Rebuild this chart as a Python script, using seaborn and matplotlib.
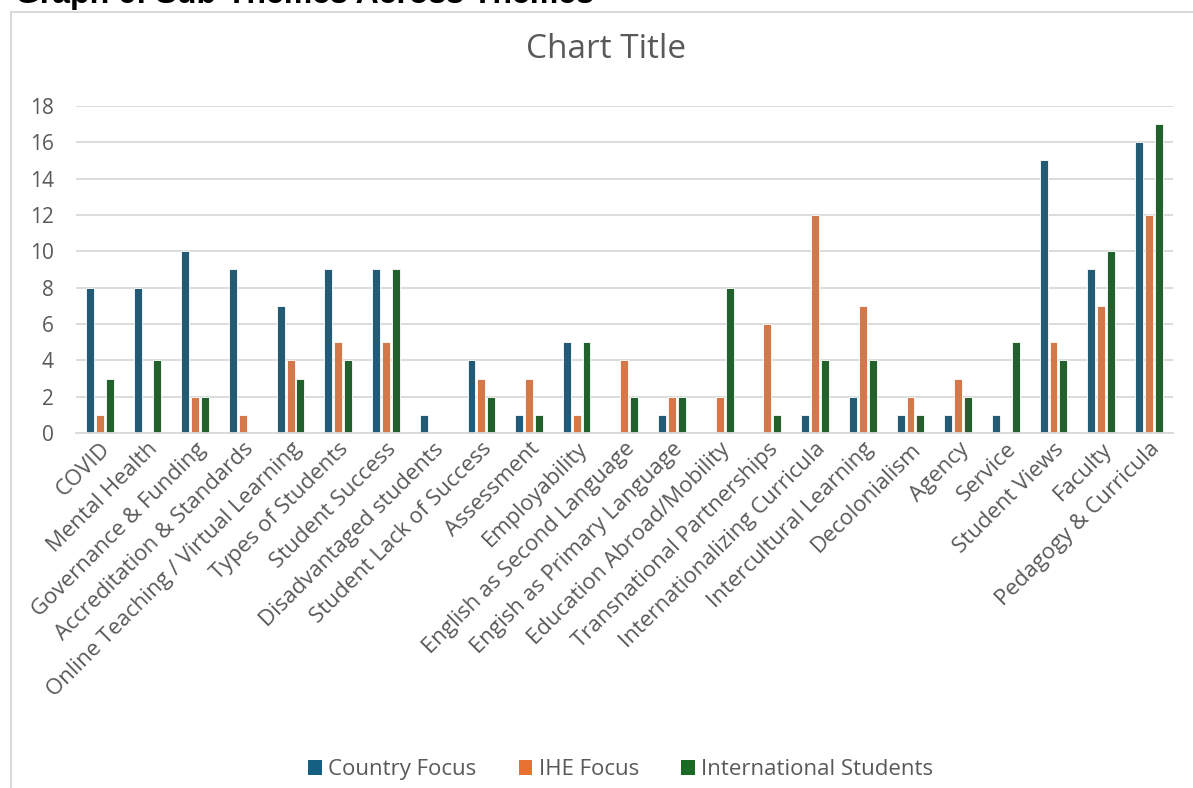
import matplotlib
matplotlib.use("Agg")
import matplotlib.pyplot as plt
from matplotlib.patches import Rectangle, Patch
import pandas as pd
import seaborn as sns

categories = [
    "COVID", "Mental Health", "Governance & Funding", "Accreditation & Standards",
    "Online Teaching / Virtual Learning", "Types of Students", "Student Success",
    "Disadvantaged students", "Student Lack of Success", "Assessment", "Employability",
    "English as Second Language", "Engish as Primary Language", "Education Abroad/Mobility",
    "Transnational Partnerships", "Internationalizing Curricula", "Intercultural Learning",
    "Decolonialism", "Agency", "Service", "Student Views", "Faculty", "Pedagogy & Curricula",
]
country_focus = [8, 8, 10, 9, 7, 9, 9, 1, 4, 1, 5, 0, 1, 0, 0, 1, 2, 1, 1, 1, 15, 9, 16]
ihe_focus = [1, 0, 2, 1, 4, 5, 5, 0, 3, 3, 1, 4, 2, 2, 6, 12, 7, 2, 3, 0, 5, 7, 12]
international_students = [3, 4, 2, 0, 3, 4, 9, 0, 2, 1, 5, 2, 2, 8, 1, 4, 4, 1, 2, 5, 4, 10, 17]
series_names = ["Country Focus", "IHE Focus", "International Students"]
series_colors = ["#156082", "#E97132", "#196B24"]
y_ticks = [0, 2, 4, 6, 8, 10, 12, 14, 16, 18]
chart_title = "Chart Title"
header = "Graph 6: Sub-Themes Across Themes"

rows = []
for name, values in zip(series_names, [country_focus, ihe_focus, international_students]):
    for cat, v in zip(categories, values):
        rows.append({"Theme": cat, "Series": name, "Count": v})
df = pd.DataFrame(rows)

sns.set_theme(style="white")
plt.rcParams["font.family"] = ["Open Sans", "DejaVu Sans"]
text_color = "#595959"

fig = plt.figure(figsize=(11.93, 7.88), dpi=100)
ax = fig.add_axes([0.0637, 0.4505, 0.9193, 0.415])

sns.barplot(
    data=df, x="Theme", y="Count", hue="Series", order=categories,
    hue_order=series_names, palette=series_colors, width=0.62, gap=0.2,
    edgecolor="white", linewidth=0.6, ax=ax, legend=False,
)

ax.set_ylim(0, 18)
ax.set_xlim(-0.5, len(categories) - 0.5)
ax.set_yticks(y_ticks)
ax.yaxis.grid(True, color="#D9D9D9", linewidth=1.3)
ax.set_axisbelow(True)
for side in ["left", "right", "top"]:
    ax.spines[side].set_visible(False)
ax.spines["bottom"].set_color("#D9D9D9")
ax.spines["bottom"].set_linewidth(1.3)
ax.set_xlabel("")
ax.set_ylabel("")
ax.tick_params(axis="y", length=0, pad=16, labelsize=15, labelcolor=text_color)
ax.tick_params(axis="x", length=0, pad=4, labelsize=16, labelcolor=text_color)
for lbl in ax.get_xticklabels():
    lbl.set_rotation(45)
    lbl.set_ha("right")
    lbl.set_rotation_mode("anchor")

fig.text(606 / 1193, 1 - 50 / 788, chart_title, ha="center", va="center",
         fontsize=24, color=text_color)

# chart frame
fig.patches.append(Rectangle((11 / 1193, -0.05), 1.2, 1 - 12 / 788 + 0.05,
                             transform=fig.transFigure, fill=False,
                             edgecolor="#D9D9D9", linewidth=1.5))

# document heading above the chart frame
fig.text(15 / 1193, 1 - 3.5 / 788, header, ha="left", va="baseline",
         fontsize=23, fontweight="bold", color="black",
         family=["Liberation Sans", "DejaVu Sans"])

handles = [Patch(facecolor=c, edgecolor="none") for c in series_colors]
fig.legend(handles, series_names, loc="center", bbox_to_anchor=(621 / 1193, 0.023), ncol=3,
           frameon=False, fontsize=16, labelcolor=text_color, handlelength=0.6,
           handleheight=0.6, handletextpad=0.3, columnspacing=1.9)

fig.savefig("out.png", dpi=100)
